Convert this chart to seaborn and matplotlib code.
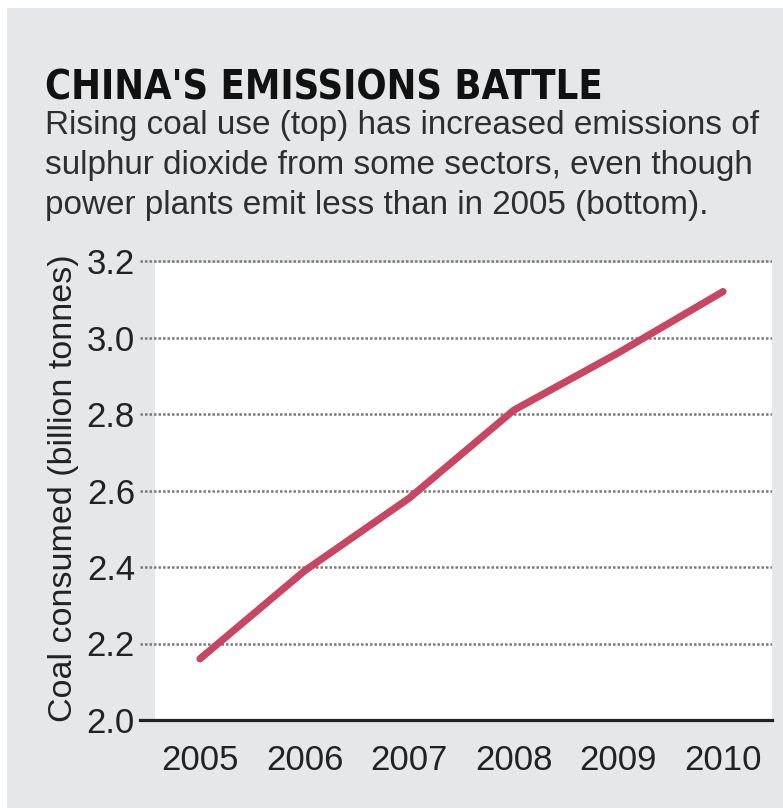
import matplotlib
matplotlib.use("Agg")
import matplotlib.pyplot as plt
from matplotlib import font_manager as fm
from matplotlib.patches import Rectangle
import pandas as pd
import seaborn as sns

# ---- data -------------------------------------------------------------
years = [2005, 2006, 2007, 2008, 2009, 2010]
coal_billion_tonnes = [2.16, 2.39, 2.58, 2.81, 2.96, 3.12]
y_ticks = [2.0, 2.2, 2.4, 2.6, 2.8, 3.0, 3.2]
y_tick_labels = ["2.0", "2.2", "2.4", "2.6", "2.8", "3.0", "3.2"]
x_tick_labels = ["2005", "2006", "2007", "2008", "2009", "2010"]

title = "CHINA'S EMISSIONS BATTLE"
subtitle_lines = [
    "Rising coal use (top) has increased emissions of",
    "sulphur dioxide from some sectors, even though",
    "power plants emit less than in 2005 (bottom).",
]
y_label = "Coal consumed (billion tonnes)"

# ---- styling ----------------------------------------------------------
sns.set_style("white")
plt.rcParams["font.family"] = ["Liberation Sans", "DejaVu Sans"]

W, H, DPI = 783, 808, 100
PANEL = "#e6e7e8"
LINE = "#c8465f"
INK = "#222222"


def fig_xy(x, y):
    """pixel position (from top-left) -> figure fraction"""
    return x / W, 1 - y / H


def pick_condensed_bold():
    candidates = [
        ({"family": "Liberation Sans Narrow", "weight": "bold"}, "Narrow"),
        ({"family": "DejaVu Sans", "weight": "bold", "stretch": "condensed"}, "Condensed"),
        ({"family": "Roboto Condensed", "weight": "bold"}, "Condensed"),
        ({"family": "Open Sans Condensed", "weight": "bold"}, "Condensed"),
    ]
    for kw, tag in candidates:
        try:
            path = fm.findfont(fm.FontProperties(**kw), fallback_to_default=False)
        except Exception:
            continue
        if tag.lower() in path.lower():
            return fm.FontProperties(fname=path)
    return fm.FontProperties(family="Roboto", weight="bold")


fig = plt.figure(figsize=(W / DPI, H / DPI), dpi=DPI)
fig.patch.set_facecolor("white")

# grey panel and the white plotting field
fig.add_artist(Rectangle((7 / W, 0), 1 - 7 / W, 1 - 8 / H,
                         transform=fig.transFigure, facecolor=PANEL,
                         edgecolor="none", zorder=-3))
x0, y0 = fig_xy(155, 720)
x1, y1 = fig_xy(772, 263)
fig.add_artist(Rectangle((x0, y0), x1 - x0, y1 - y0,
                         transform=fig.transFigure, facecolor="white",
                         edgecolor="none", zorder=-2))

# axes: 2005 at x=200px, 2010 at x=723px; 2.0 at y=720px, 3.2 at y=261px
ax_left, ax_right = 140, 772
ax_bottom, ax_top = 720, 257
ax = fig.add_axes([ax_left / W, 1 - ax_bottom / H,
                   (ax_right - ax_left) / W, (ax_bottom - ax_top) / H])
ax.set_facecolor("none")

df = pd.DataFrame({"year": years, "coal": coal_billion_tonnes})
sns.lineplot(data=df, x="year", y="coal", ax=ax, color=LINE, linewidth=5.2,
             solid_capstyle="round", solid_joinstyle="round", zorder=3)

px_per_year = (723 - 200) / 5
ax.set_xlim(2005 - (200 - ax_left) / px_per_year,
            2010 + (ax_right - 723) / px_per_year)
px_per_unit = (720 - 261) / 1.2
ax.set_ylim(2.0, 2.0 + (ax_bottom - ax_top) / px_per_unit)

ax.set_xticks(years)
ax.set_xticklabels(x_tick_labels)
ax.set_yticks(y_ticks)
ax.set_yticklabels(y_tick_labels)
ax.tick_params(axis="x", direction="out", length=8.6, width=1.5, color="#333333",
               pad=9, labelsize=25, labelcolor=INK)
ax.tick_params(axis="y", length=0, pad=3.6, labelsize=25, labelcolor=INK)

ax.set_axisbelow(True)
ax.grid(axis="y", color="#7a7a7a", linewidth=1.8, linestyle=(0, (1.0, 0.8)))
ax.grid(axis="x", visible=False)

for side in ("top", "right", "left"):
    ax.spines[side].set_visible(False)
ax.spines["bottom"].set_color(INK)
ax.spines["bottom"].set_linewidth(2.3)
ax.spines["bottom"].set_zorder(4)

ax.set_xlabel("")
ax.set_ylabel(y_label, fontsize=24.5, color=INK)
ax.yaxis.set_label_coords((79 - ax_left) / (ax_right - ax_left), 0.5)

# ---- headline and standfirst -----------------------------------------
renderer = fig.canvas.get_renderer()

tfp = pick_condensed_bold()
tx, ty = fig_xy(45, 100)
t = fig.text(tx, ty, title, fontproperties=tfp, fontsize=40, color="#111111",
             ha="left", va="baseline")
w = t.get_window_extent(renderer).width
t.set_fontsize(40 * 558 / w)

sub_texts = []
for i, line in enumerate(subtitle_lines):
    sx, sy = fig_xy(45, 134 + 40 * i)
    sub_texts.append(fig.text(sx, sy, line, fontsize=20, color="#2e2e2e",
                              family=["Liberation Sans", "DejaVu Sans"],
                              ha="left", va="baseline"))
w = sub_texts[1].get_window_extent(renderer).width
for s in sub_texts:
    s.set_fontsize(20 * 707 / w)

fig.savefig("out.png", dpi=DPI, facecolor=fig.get_facecolor())
